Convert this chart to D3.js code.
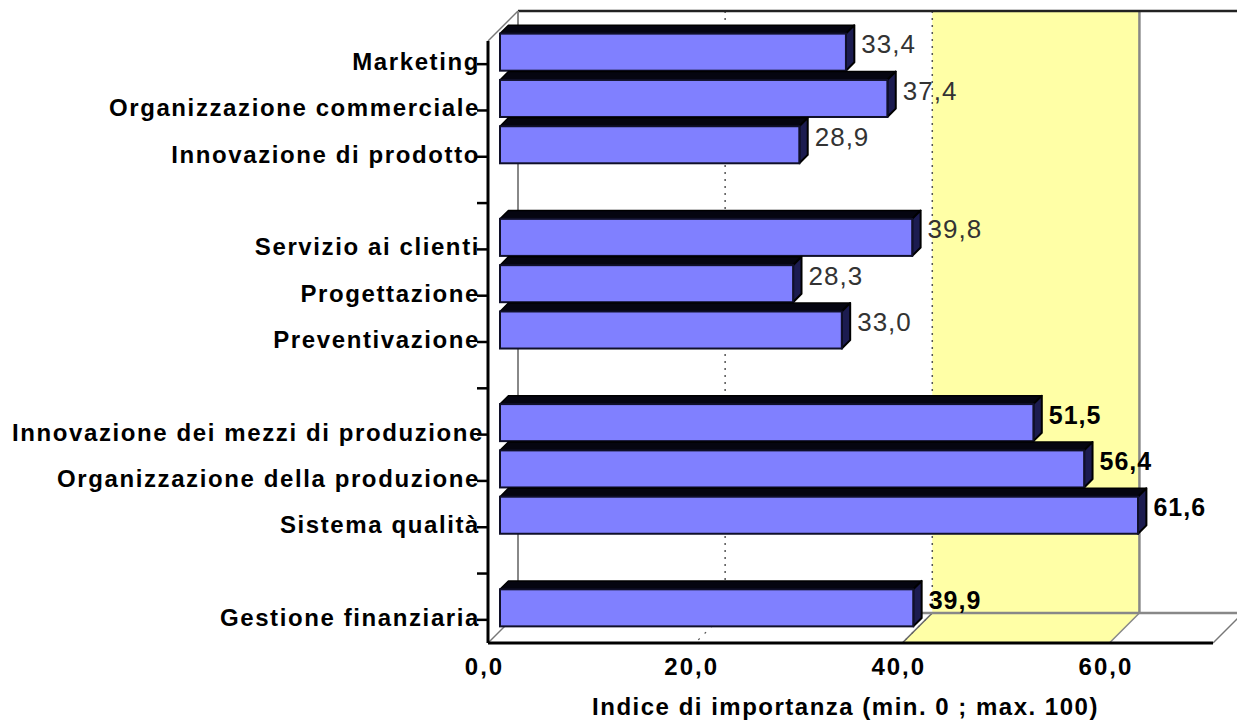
<!DOCTYPE html>
<html>
<head>
<meta charset="utf-8">
<script src="https://cdn.jsdelivr.net/npm/d3@7"></script>
<style>
  html, body { margin: 0; padding: 0; background: #fff; }
  svg { display: block; }
  text { font-family: "Liberation Sans", Arial, sans-serif; }
</style>
</head>
<body>
<svg id="chart" width="1237" height="726"></svg>
<script>
// Categorie (le stringhe vuote separano i gruppi di funzioni aziendali)
const categorie = [
  "Marketing",
  "Organizzazione commerciale",
  "Innovazione di prodotto",
  "",
  "Servizio ai clienti",
  "Progettazione",
  "Preventivazione",
  "",
  "Innovazione dei mezzi di produzione",
  "Organizzazione della produzione",
  "Sistema qualità",
  "",
  "Gestione finanziaria"
];
const valori = [33.4, 37.4, 28.9, null, 39.8, 28.3, 33.0, null, 51.5, 56.4, 61.6, null, 39.9];
// Voci con etichetta del valore in grassetto
const evidenziate = [
  "Innovazione dei mezzi di produzione",
  "Organizzazione della produzione",
  "Sistema qualità",
  "Gestione finanziaria"
];
const tickValori = [0, 20, 40, 60];
const grigliaValori = [20, 40];
const fascia = [40, 60];
const dominio = [0, 70];
const titoloAsse = "Indice di importanza (min. 0 ; max. 100)";

const svg = d3.select("#chart");

// Piano frontale e vettore di profondità della vista 3D
const FRONT_TOP = 41, FRONT_BOTTOM = 643;
const DX = 30, DY = -30;      // spostamento dal piano frontale alla parete di fondo
const Z_BAR = 0.4;            // profondità della faccia frontale delle barre
const Z_DEPTH = 0.28;         // spessore delle barre

const x = d3.scaleLinear().domain(dominio).range([488, 1213]);
const y = d3.scaleBand()
  .domain(d3.range(categorie.length))
  .range([FRONT_TOP, FRONT_BOTTOM])
  .paddingInner(0.2)
  .paddingOuter(0.1);

const fmt = v => d3.format(".1f")(v).replace(".", ",");

const backTop = FRONT_TOP + DY, backBottom = FRONT_BOTTOM + DY;

// Parete di fondo e pavimento
const g = svg.append("g");

// fascia gialla sulla parete di fondo
g.append("rect")
  .attr("x", x(fascia[0]) + DX).attr("y", backTop)
  .attr("width", x(fascia[1]) - x(fascia[0]))
  .attr("height", backBottom - backTop)
  .attr("fill", "#ffffa6");

// fascia gialla sul pavimento
g.append("path")
  .attr("d", d3.line()([
    [x(fascia[0]), FRONT_BOTTOM], [x(fascia[1]), FRONT_BOTTOM],
    [x(fascia[1]) + DX, backBottom], [x(fascia[0]) + DX, backBottom]
  ]) + "Z")
  .attr("fill", "#ffffa6");

// griglia tratteggiata (parete e pavimento)
grigliaValori.forEach(v => {
  g.append("line")
    .attr("x1", x(v) + DX).attr("x2", x(v) + DX)
    .attr("y1", backTop).attr("y2", backBottom)
    .attr("stroke", "#555").attr("stroke-width", 1.5)
    .attr("stroke-dasharray", "2,5");
  g.append("line")
    .attr("x1", x(v) + DX).attr("y1", backBottom)
    .attr("x2", x(v)).attr("y2", FRONT_BOTTOM)
    .attr("stroke", "#555").attr("stroke-width", 1.2)
    .attr("stroke-dasharray", "2,7");
});

// bordo destro della fascia
g.append("line")
  .attr("x1", x(fascia[1]) + DX).attr("x2", x(fascia[1]) + DX)
  .attr("y1", backTop).attr("y2", backBottom)
  .attr("stroke", "#888").attr("stroke-width", 2.5);
g.append("line")
  .attr("x1", x(fascia[1]) + DX).attr("y1", backBottom)
  .attr("x2", x(fascia[1])).attr("y2", FRONT_BOTTOM)
  .attr("stroke", "#888").attr("stroke-width", 1.5);
g.append("line")
  .attr("x1", x(fascia[0]) + DX).attr("y1", backBottom)
  .attr("x2", x(fascia[0])).attr("y2", FRONT_BOTTOM)
  .attr("stroke", "#666").attr("stroke-width", 1.5);

// bordi della parete di fondo
g.append("line")
  .attr("x1", x(0) + DX).attr("x2", x(dominio[1]) + DX)
  .attr("y1", backTop).attr("y2", backTop)
  .attr("stroke", "#222").attr("stroke-width", 2.5);
g.append("line")
  .attr("x1", x(0) + DX).attr("x2", x(dominio[1]) + DX)
  .attr("y1", backBottom).attr("y2", backBottom)
  .attr("stroke", "#888").attr("stroke-width", 2.5);
g.append("line")
  .attr("x1", x(0) + DX).attr("x2", x(0) + DX)
  .attr("y1", backTop).attr("y2", backBottom)
  .attr("stroke", "#888").attr("stroke-width", 2);
// spigoli diagonali
[[0, FRONT_TOP], [0, FRONT_BOTTOM], [dominio[1], FRONT_BOTTOM]].forEach(([v, yy]) => {
  g.append("line")
    .attr("x1", x(v)).attr("y1", yy)
    .attr("x2", x(v) + DX).attr("y2", yy + DY)
    .attr("stroke", "#777").attr("stroke-width", 1.5);
});

// Barre 3D
const dd = Z_DEPTH * DX, ddy = Z_DEPTH * DY;
const bars = svg.append("g");
categorie.forEach((c, i) => {
  const v = valori[i];
  if (v == null) return;
  const x0 = x(0) + Z_BAR * DX, x1 = x(v) + Z_BAR * DX;
  const y0 = y(i) + Z_BAR * DY, h = y.bandwidth();
  // faccia superiore
  bars.append("path")
    .attr("d", d3.line()([[x0, y0], [x1, y0], [x1 + dd, y0 + ddy], [x0 + dd, y0 + ddy]]) + "Z")
    .attr("fill", "#050510").attr("stroke", "#000").attr("stroke-width", 1.5)
    .attr("stroke-linejoin", "round");
  // faccia laterale
  bars.append("path")
    .attr("d", d3.line()([[x1, y0], [x1 + dd, y0 + ddy], [x1 + dd, y0 + ddy + h], [x1, y0 + h]]) + "Z")
    .attr("fill", "#1c1c50").attr("stroke", "#000").attr("stroke-width", 2)
    .attr("stroke-linejoin", "round");
  // faccia frontale
  bars.append("rect")
    .attr("x", x0).attr("y", y0)
    .attr("width", x1 - x0).attr("height", h)
    .attr("fill", "#8080ff")
    .attr("stroke", "#10102a").attr("stroke-width", 2);

  // etichetta del valore, all'altezza del centro della barra sul retro
  const bold = evidenziate.includes(c);
  svg.append("text")
    .attr("x", x1 + dd + 7)
    .attr("y", y0 + ddy + h / 2 + 9.5)
    .attr("font-size", bold ? 25 : 26)
    .attr("font-weight", bold ? "bold" : "normal")
    .attr("letter-spacing", 1)
    .attr("fill", bold ? "#000" : "#333")
    .text(fmt(v));
});

// Asse delle categorie (piano frontale)
const yAxis = svg.append("g")
  .attr("transform", `translate(${x(0)},0)`)
  .call(d3.axisLeft(y).tickSize(11).tickFormat(i => categorie[i]));
yAxis.select(".domain").remove();
yAxis.selectAll(".tick line").attr("stroke", "#000").attr("stroke-width", 2.5);
yAxis.selectAll(".tick text")
  .attr("x", -8).attr("dy", 6)
  .attr("font-size", 24).attr("font-weight", "bold")
  .attr("letter-spacing", 1.6)
  .attr("fill", "#000")
  .each(function () {
    // le etichette troppo lunghe sporgono verso destra oltre l'asse
    const w = this.getComputedTextLength();
    const left = x(0) - 8 - w;
    if (left < 12) d3.select(this).attr("x", -8 + (12 - left));
  });
svg.append("line")
  .attr("x1", x(0)).attr("x2", x(0))
  .attr("y1", FRONT_TOP).attr("y2", FRONT_BOTTOM)
  .attr("stroke", "#000").attr("stroke-width", 3);

// Asse dei valori (bordo frontale del pavimento)
const xAxis = svg.append("g")
  .attr("transform", `translate(0,${FRONT_BOTTOM})`)
  .call(d3.axisBottom(x).tickValues(tickValori).tickSize(0).tickFormat(fmt));
xAxis.select(".domain").remove();
xAxis.selectAll(".tick text")
  .attr("x", -4).attr("y", 32).attr("dy", 0)
  .attr("font-size", 24).attr("font-weight", "bold")
  .attr("letter-spacing", 2)
  .attr("fill", "#000");
svg.append("line")
  .attr("x1", x(0)).attr("x2", x(dominio[1]))
  .attr("y1", FRONT_BOTTOM).attr("y2", FRONT_BOTTOM)
  .attr("stroke", "#000").attr("stroke-width", 3);

// Titolo dell'asse dei valori
svg.append("text")
  .attr("x", (x(0) + x(dominio[1])) / 2 - 5)
  .attr("y", 715)
  .attr("text-anchor", "middle")
  .attr("font-size", 24).attr("font-weight", "bold")
  .attr("letter-spacing", 1.5)
  .attr("fill", "#000")
  .text(titoloAsse);
</script>
</body>
</html>
